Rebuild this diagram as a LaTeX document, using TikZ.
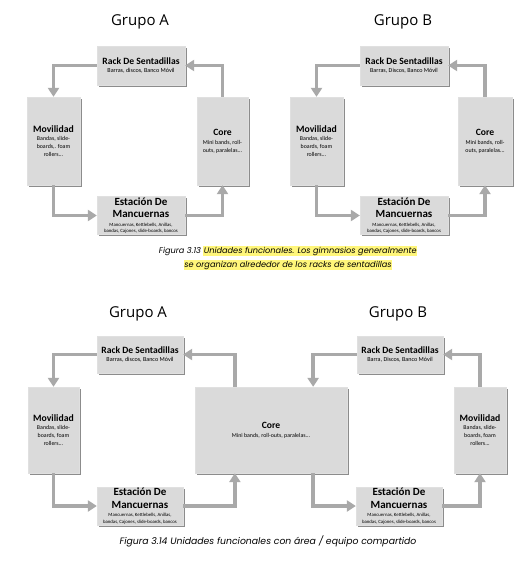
\documentclass[tikz,border=0pt]{standalone}
\usepackage{fontspec}
\setmainfont{Carlito}
\newfontfamily\grpfont{Open Sans}
\newfontfamily\capfont{Poppins}
\usetikzlibrary{arrows.meta,shadows,calc}
\definecolor{boxfill}{HTML}{DADADA}
\definecolor{boxshadow}{HTML}{8C8C8C}
\definecolor{arrowgray}{HTML}{A9A9A9}
\definecolor{hlyellow}{HTML}{FFF67A}
\tikzset{
  unit/.style={fill=boxfill, draw=boxfill!85!white, line width=0.3pt, inner sep=1pt, align=center,
    drop shadow={shadow xshift=1.6pt, shadow yshift=-1.6pt, fill=boxshadow, opacity=1}},
  rackbox/.style={unit, font=\fontsize{6.1}{7.4}\selectfont},
  tallbox/.style={unit, font=\fontsize{5.9}{8.2}\selectfont},
  estbox/.style={unit, font=\fontsize{4.8}{6.3}\selectfont},
  flow/.style={draw=arrowgray, line width=3.6pt, -{Triangle[width=11pt,length=9pt]}},
  grp/.style={font=\grpfont\fontsize{15}{18}\selectfont, anchor=base},
  figcaption/.style={font=\capfont\itshape\fontsize{8.2}{14}\selectfont, align=center},
  figcaptionb/.style={font=\capfont\itshape\fontsize{9.3}{14}\selectfont, align=center},
}
\newcommand{\ttl}[1]{{\bfseries\fontsize{9.6}{10}\selectfont #1}}
\newcommand{\ttlb}[1]{{\bfseries\fontsize{11}{11}\selectfont #1}}
\newcommand{\ttlm}[1]{{\bfseries\fontsize{9.7}{10}\selectfont #1}}
\newcommand{\hlx}[1]{{\setlength{\fboxsep}{0.4pt}\colorbox{hlyellow}{#1}}}
\begin{document}
\begin{tikzpicture}[x=1pt,y=-1pt]
\useasboundingbox[fill=white] (0,0) rectangle (531,561);

% ---------- Figure 3.13, Grupo A ----------
\node[grp] (tA1) at (140,26) {Grupo A};
\node[rackbox, minimum width=88pt, minimum height=39pt] (rackA1) at (141,65.5)
  {\ttl{Rack De Sentadillas}\\[1.5pt]Barras, discos, Banco Móvil};
\node[tallbox, minimum width=53pt, minimum height=88pt] (movA1) at (53.5,141)
  {\ttlm{Movilidad}\\Bandas, slide-\\boards,. foam\\rollers...};
\node[tallbox, minimum width=51pt, minimum height=88pt] (coreA1) at (222.5,141)
  {\ttl{Core}\\[0.7pt]Mini bands, roll-\\outs, paralelas...};
\node[estbox, minimum width=88pt, minimum height=35pt] (estA1) at (141,215.5)
  {\ttlb{Estación De}\\[4.4pt]\ttlb{Mancuernas}\\[2pt]Mancuernas, Kettlebells, Anillas,\\bandas, Cajones, slide-boards, bancos};
\draw[flow] (rackA1.west) -| (movA1.north);
\draw[flow] (movA1.south) |- (estA1.west);
\draw[flow] (estA1.east) -| (coreA1.south);
\draw[flow] (coreA1.north) |- (rackA1.east);

% ---------- Figure 3.13, Grupo B ----------
\node[grp] (tB1) at (403,26) {Grupo B};
\node[rackbox, minimum width=88pt, minimum height=39pt] (rackB1) at (404,65.5)
  {\ttl{Rack De Sentadillas}\\[1.5pt]Barras, Discos, Banco Móvil};
\node[tallbox, minimum width=53pt, minimum height=88pt] (movB1) at (316.5,141)
  {\ttlm{Movilidad}\\Bandas, slide-\\boards, foam\\rollers...};
\node[tallbox, minimum width=54pt, minimum height=88pt] (coreB1) at (485,141)
  {\ttl{Core}\\[0.7pt]Mini bands, roll-\\outs, paralelas...};
\node[estbox, minimum width=88pt, minimum height=35pt] (estB1) at (404,215.5)
  {\ttlb{Estación De}\\[4.4pt]\ttlb{Mancuernas}\\[2pt]Mancuernas, Kettlebells, Anillas,\\bandas, Cajones, slide-boards, bancos};
\draw[flow] (rackB1.west) -| (movB1.north);
\draw[flow] (movB1.south) |- (estB1.west);
\draw[flow] (estB1.east) -| (coreB1.south);
\draw[flow] (coreB1.north) |- (rackB1.east);

\node[figcaption] (cap1) at (288,258)
  {Figura 3.13 \hlx{Unidades funcionales. Los gimnasios generalmente}\\
   \hlx{se organizan alrededor de los racks de sentadillas}};

% ---------- Figure 3.14 ----------
\node[grp] (tA2) at (138,317) {Grupo A};
\node[grp] (tB2) at (398,317) {Grupo B};
\node[rackbox, minimum width=86pt, minimum height=37pt] (rackA2) at (140,354.5)
  {\ttl{Rack De Sentadillas}\\[1.5pt]Barras, discos, Banco Móvil};
\node[tallbox, minimum width=51pt, minimum height=86pt] (movA2) at (53.5,430)
  {\ttlm{Movilidad}\\Bandas, slide-\\boards, foam\\rollers...};
\node[estbox, minimum width=86pt, minimum height=38pt] (estA2) at (140,506)
  {\ttlb{Estación De}\\[4.4pt]\ttlb{Mancuernas}\\[2pt]Mancuernas, Kettlebells, Anillas,\\bandas, Cajones, slide-boards, bancos};
\node[tallbox, minimum width=152pt, minimum height=86pt] (coreS) at (271,430)
  {\ttl{Core}\\[0.7pt]Mini bands, roll-outs, paralelas...};
\node[rackbox, minimum width=86pt, minimum height=37pt] (rackB2) at (400,354.5)
  {\ttl{Rack De Sentadillas}\\[1.5pt]Barra, Discos, Banco Móvil};
\node[estbox, minimum width=86pt, minimum height=38pt] (estB2) at (399,506)
  {\ttlb{Estación De}\\[4.4pt]\ttlb{Mancuernas}\\[2pt]Mancuernas, Kettlebells, Anillas,\\bandas, Cajones, slide-boards, bancos};
\node[tallbox, minimum width=52pt, minimum height=86pt] (movB2) at (480,430)
  {\ttlm{Movilidad}\\Bandas, slide-\\boards, foam\\rollers...};

\draw[flow] (rackA2.west) -| (movA2.north);
\draw[flow] (movA2.south) |- (estA2.west);
\draw[flow] (estA2.east) -| ([xshift=40pt]coreS.south west);
\draw[flow] ([xshift=40pt]coreS.north west) |- (rackA2.east);

\draw[flow] (rackB2.west) -| ([xshift=-34pt]coreS.north east);
\draw[flow] ([xshift=-34pt]coreS.south east) |- (estB2.west);
\draw[flow] (estB2.east) -| (movB2.south);
\draw[flow] (movB2.north) |- (rackB2.east);

\node[figcaptionb] (cap2) at (268,541) {Figura 3.14 Unidades funcionales con área / equipo compartido};
\end{tikzpicture}
\end{document}
